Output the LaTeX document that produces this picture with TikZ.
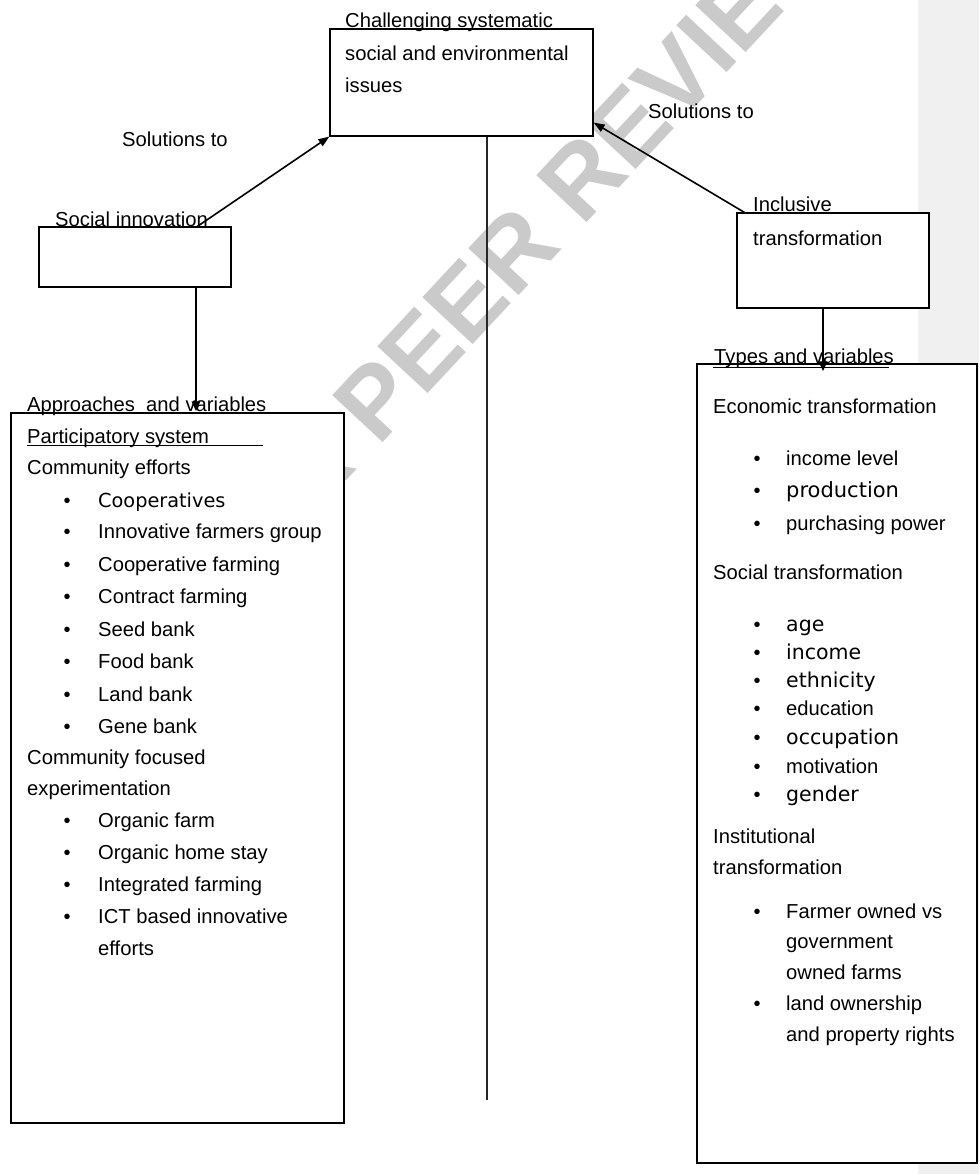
\documentclass[tikz,border=0pt]{standalone}
\usepackage{fontspec}
\setmainfont{Liberation Sans}
\newfontfamily\vfont{DejaVu Sans}
\usetikzlibrary{arrows.meta}
\definecolor{wm}{RGB}{202,202,202}
\definecolor{panel}{RGB}{240,240,240}
\begin{document}
\begin{tikzpicture}[x=1pt,y=-1pt,
  box/.style={draw, line width=1.2pt, fill=white, inner sep=0pt},
  txt/.style={anchor=base west, inner sep=0pt, font=\fontsize{20.2}{24}\selectfont},
  vtxt/.style={anchor=base west, inner sep=0pt, font=\vfont\fontsize{20.5}{24}\selectfont},
  bul/.style={anchor=base, inner sep=0pt, font=\fontsize{20}{24}\selectfont},
  arr/.style={line width=1.6pt, -{Triangle[length=11pt,width=8pt]}},
  bigarr/.style={line width=2.6pt, -{Triangle[length=10pt,width=8pt]}}]
\useasboundingbox (0,0) rectangle (979,1174);
\fill[panel] (918,0) rectangle (979,1174);
% watermark
\node[anchor=base west, rotate=47, text=wm, inner sep=0pt,
      font=\bfseries\fontsize{100}{100}\selectfont] (wmk) at (215,622) {FOR PEER REVIEW};
% boxes
\node[box, minimum width=263pt, minimum height=107pt] (top) at (461.5,82.5) {};
\node[box, minimum width=192pt, minimum height=60pt] (soc) at (135,257) {};
\node[box, minimum width=192pt, minimum height=95pt] (inc) at (833,260.5) {};
\node[box, minimum width=333pt, minimum height=710pt] (lbox) at (177.5,768) {};
\node[box, minimum width=280pt, minimum height=799pt] (rbox) at (837,763.5) {};
% centre line
\coordinate (vend) at (487,1100);
\draw[line width=1.2pt, black!85] (top.south -| vend) -- (vend);
% connectors
\draw[arr] ([xshift=159pt]soc.north west) -- (top.south west);
\draw[arr] ([xshift=8pt]inc.north west) -- ([yshift=14pt]top.south east);
\draw[bigarr] ([xshift=61pt]soc.south) -- ([xshift=61pt,yshift=1pt]soc.south |- lbox.north);
\draw[bigarr] ([xshift=-10pt]inc.south) -- ([xshift=-10pt,yshift=-8pt]inc.south |- rbox.north);
% top texts
\node[txt] (c1) at (345,28) {Challenging systematic};
\node[txt] (c2) at (345,61) {social and environmental};
\node[txt] (c3) at (345,93) {issues};
\node[txt] (sl) at (122,147) {Solutions to};
\node[txt] (sr) at (648,119) {Solutions to};
\node[txt] (si) at (55,227) {Social innovation};
\node[txt] (i1) at (753,212) {Inclusive};
\node[txt] (i2) at (753,245) {transformation};
% left box
\node[txt] (appr) at (27,411) {Approaches\ \ and variables};
\node[txt] (part) at (27,443) {Participatory system};
\draw[line width=1pt] (27,445.5) -- (263,445.5);
\node[txt] (ce) at (27,474) {Community efforts};
\node[vtxt, font=\vfont\fontsize{19.3}{24}\selectfont] (coop) at (98,507) {Cooperatives};
\foreach \y/\t [count=\i] in {538/Innovative farmers group, 571/Cooperative farming,
   603/Contract farming, 636/Seed bank, 668/Food bank, 701/Land bank, 733/Gene bank,
   827/Organic farm, 859/Organic home stay, 891/Integrated farming, 923/ICT based innovative}
   \node[txt] (li\i) at (98,\y) {\t};
\foreach \y [count=\i] in {507,538,571,603,636,668,701,733,827,859,891,923}
   \node[bul] (lb\i) at (67,\y) {\textbullet};
\node[txt] (eff) at (98,955) {efforts};
\node[txt] (cf1) at (27,764) {Community focused};
\node[txt] (cf2) at (27,795) {experimentation};
% right box
\node[txt] (tv) at (714,363) {Types and variables};
\draw[line width=1.2pt] (713,367.5) -- (889,367.5);
\node[txt] (et) at (713,413) {Economic transformation};
\node[txt] (r1) at (786,465) {income level};
\node[vtxt, font=\vfont\fontsize{21}{24}\selectfont] (r2) at (786,497) {production};
\node[txt] (r3) at (786,530) {purchasing power};
\node[txt] (st) at (713,579) {Social transformation};
\node[vtxt] (r4) at (786,631) {age};
\node[vtxt] (r5) at (786,659) {income};
\node[vtxt] (r6) at (786,687) {ethnicity};
\node[txt] (r7) at (786,715) {education};
\node[vtxt] (r8) at (786,744) {occupation};
\node[txt] (r9) at (786,773) {motivation};
\node[vtxt] (r10) at (786,801) {gender};
\node[txt] (it1) at (713,843) {Institutional};
\node[txt] (it2) at (713,874) {transformation};
\node[txt] (r11) at (786,918) {Farmer owned vs};
\node[txt] (r12) at (786,948) {government};
\node[txt] (r13) at (786,979) {owned farms};
\node[txt] (r14) at (786,1010) {land ownership};
\node[txt] (r15) at (786,1041) {and property rights};
\foreach \y [count=\i] in {465,497,530,631,659,687,715,744,773,801,918,1010}
   \node[bul] (rb\i) at (757,\y) {\textbullet};
\end{tikzpicture}
\end{document}
